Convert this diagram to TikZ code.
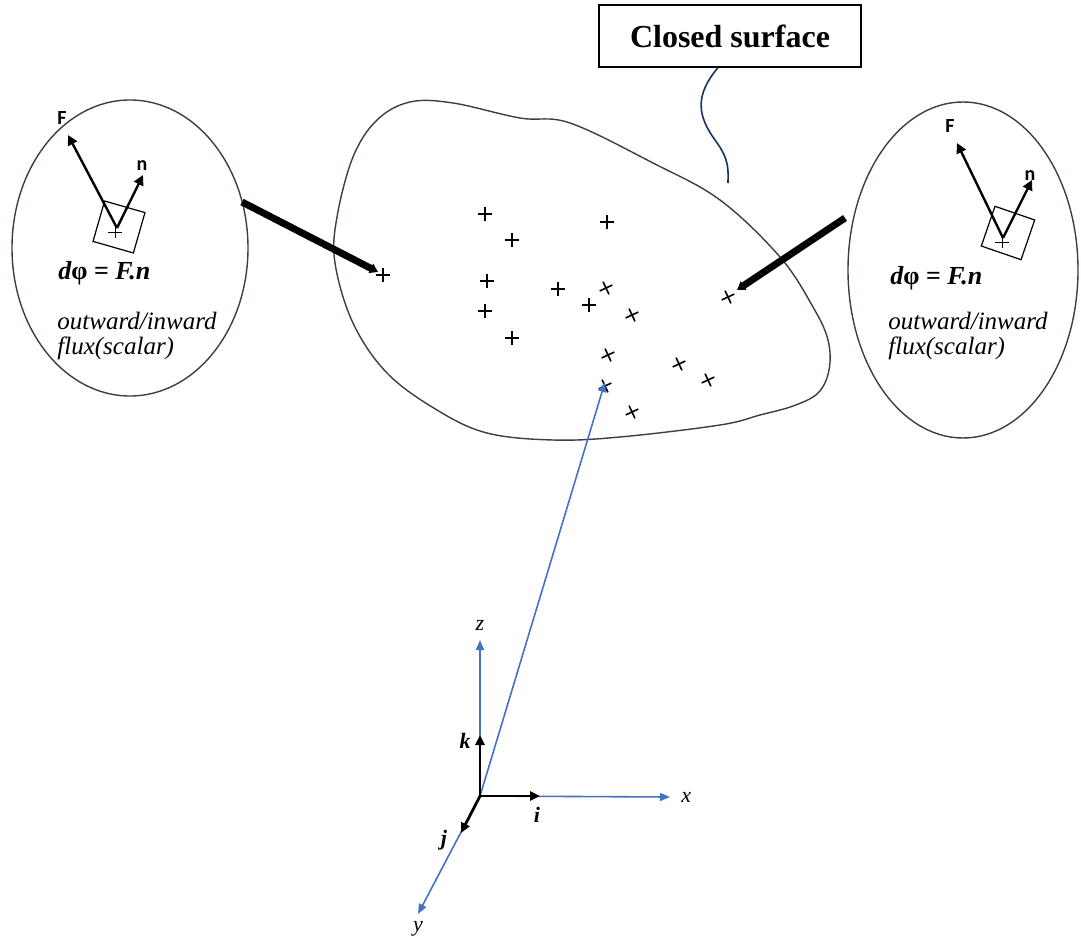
\documentclass[tikz,border=0pt]{standalone}
\usepackage{fontspec}
\setmainfont{Liberation Serif}
\newfontfamily\labelfont{Carlito}
\usepackage{tikz}
\usetikzlibrary{arrows.meta, positioning, calc, shapes.geometric}
\definecolor{axisblue}{RGB}{68, 114, 196}
\definecolor{outline}{RGB}{55, 62, 80}
\definecolor{leadnavy}{RGB}{25, 50, 100}

\tikzset{
  cross/.style={line width=0.8pt},
  vecarrow/.style={line width=1.2pt, -{Triangle[length=5pt, width=5pt]}},
  thickarrow/.style={line width=3.5pt, -{Triangle[length=4pt, width=5pt]}},
  axis/.style={axisblue, line width=0.8pt, -{Triangle[length=5pt, width=4pt]}},
  unitvec/.style={line width=1.4pt, -{Triangle[length=5pt, width=4.5pt]}},
  fluxtext/.style={anchor=west, inner sep=0pt, font=\fontsize{12.5}{14}\selectfont\itshape},
  fluxeq/.style={anchor=west, inner sep=0pt, font=\fontsize{13}{15}\selectfont\bfseries},
  veclabel/.style={inner sep=0pt, font=\labelfont\fontsize{10}{12}\selectfont\bfseries},
  fluxcap/.style={ellipse, draw=outline, line width=0.7pt},
  patch/.style={draw, line width=0.6pt, minimum size=21pt, inner sep=0pt},
}

\begin{document}
\begin{tikzpicture}[x=0.5pt, y=-0.5pt]
  \useasboundingbox (0,0) rectangle (1081,947);

  % Closed surface
  \draw[outline, line width=0.7pt] plot[smooth cycle, tension=0.6] coordinates {
    (410,102) (453,103) (520,118) (570,123) (653,163) (720,200) (780,257)
    (813,307) (828,340) (829,370) (818,393) (793,406) (760,415) (720,425)
    (620,437) (553,440) (487,433) (437,410) (387,373) (353,323) (335,263)
    (337,217) (353,157) (377,120)};

  % label box with its lead
  \node[draw, line width=0.6pt, minimum width=131pt, minimum height=31pt,
        font=\fontsize{16}{18}\selectfont\bfseries] (surflabel) at (730,36)
    {Closed surface\hspace{6pt}};
  \coordinate (leadend) at (728,183);
  \draw[leadnavy, line width=0.8pt] ([xshift=-6pt]surflabel.south)
    .. controls (695,95) and (697,115) .. (715,140)
    .. controls (730,160) and (728,170) .. (leadend);

  % points on the surface
  \foreach \px/\py [count=\i] in {485/214, 512/240, 607/222, 383/275, 487/281,
      485/311, 512/338, 558/289, 589/305}
    {\coordinate (p\i) at (\px,\py);
     \draw[cross] ($(p\i)+(-7,0)$) -- ($(p\i)+(7,0)$) ($(p\i)+(0,-7)$) -- ($(p\i)+(0,7)$);}
  \foreach \px/\py [count=\i] in {606/288, 632/315, 608/355, 679/364, 708/380,
      605/386, 632/412, 728/297}
    {\coordinate (q\i) at (\px,\py);
     \draw[cross, shift={(q\i)}, rotate=25] (-7,0) -- (7,0) (0,-7) -- (0,7);}

  % left zoom-in
  \node[fluxcap, minimum width=118pt, minimum height=148pt] (lcap) at (130,248) {};
  \node[patch, rotate=-16] (lpatch) at (119,227) {};
  \coordinate (lbase) at (117,228);
  \draw[line width=0.5pt] (108,232) -- (122,232) (115,226) -- (115,238);
  \coordinate (lF) at (68,135);
  \coordinate (ln) at (143,175);
  \draw[vecarrow] (lbase) -- (lF);
  \draw[vecarrow] (lbase) -- (ln);
  \node[veclabel] (lFlab) at (62,118) {F};
  \node[veclabel] (lnlab) at (142,166) {n};
  \node[fluxeq] (leq) at (58,273) {\itshape d\upshape φ = \itshape F.n};
  \node[fluxtext] (lout) at (57,321) {outward/inward};
  \node[fluxtext] (lflux) at (57,348) {flux(scalar)};

  % right zoom-in
  \node[fluxcap, minimum width=115pt, minimum height=168pt] (rcap) at (963,270) {};
  \node[patch, rotate=-19] (rpatch) at (1008,233) {};
  \coordinate (rbase) at (1003,238);
  \draw[line width=0.5pt] (995,242) -- (1009,242) (1002,236) -- (1002,248);
  \coordinate (rF) at (957,143);
  \coordinate (rn) at (1032,180);
  \draw[vecarrow] (rbase) -- (rF);
  \draw[vecarrow] (rbase) -- (rn);
  \node[veclabel] (rFlab) at (950,126) {F};
  \node[veclabel] (rnlab) at (1030,176) {n};
  \node[fluxeq] (req) at (890,278) {\itshape d\upshape φ = \itshape F.n};
  \node[fluxtext] (rout) at (888,321) {outward/inward};
  \node[fluxtext] (rflux) at (888,348) {flux(scalar)};

  % pointers to the surface
  \coordinate (ltail) at (242,202);
  \coordinate (rtail) at (845,218);
  \draw[thickarrow] (ltail) -- ([shift={(-5,-3)}]p4);
  \draw[thickarrow] (rtail) -- ([shift={(9,-7)}]q8);

  % axes
  \coordinate (O) at (480,796);
  \coordinate (zend) at (480,640);
  \coordinate (xend) at (670,797);
  \coordinate (yend) at (418,914);
  \draw[axis] (O) -- (zend) node[above=1pt, black, font=\fontsize{11}{12}\selectfont\itshape] (zlab) {z};
  \draw[axis] (O) -- (xend) node[right=2pt, black, font=\fontsize{11}{12}\selectfont\itshape] (xlab) {x};
  \draw[axis] (O) -- (yend) node[below=0pt, black, font=\fontsize{11}{12}\selectfont\itshape] (ylab) {y};
  \draw[axis] (O) -- ([yshift=2]q6);

  % unit vectors
  \coordinate (kend) at (480,735);
  \coordinate (iend) at (540,796);
  \coordinate (jend) at (461,833);
  \draw[unitvec] (O) -- (kend);
  \draw[unitvec] (O) -- (iend);
  \draw[unitvec] (O) -- (jend);
  \node[font=\fontsize{11}{12}\selectfont\bfseries\itshape] (klab) at (465,741) {k};
  \node[font=\fontsize{11}{12}\selectfont\bfseries\itshape] (ilab) at (537,815) {i};
  \node[font=\fontsize{11}{12}\selectfont\bfseries\itshape] (jlab) at (444,840) {j};
\end{tikzpicture}
\end{document}
